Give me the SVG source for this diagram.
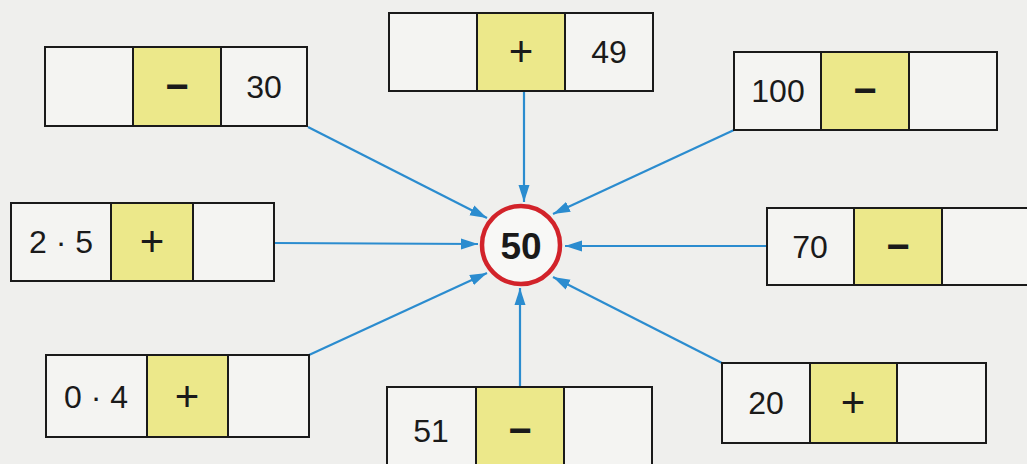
<svg xmlns="http://www.w3.org/2000/svg" width="1027" height="464" viewBox="0 0 1027 464">
<style>
.cell{fill:#f4f4f2;stroke:#1a1a1a;stroke-width:2}
.op{fill:#ece88a;stroke:#1a1a1a;stroke-width:2}
.t{font-family:"Liberation Sans",Arial,sans-serif;font-size:32px;fill:#1a1a1a;text-anchor:middle}
.p{font-size:42px}
.m{font-weight:bold;font-size:40px}
.conn line{stroke:#2b8ccf;stroke-width:2.2;fill:none}
</style>
<defs>
<marker id="ah" markerUnits="userSpaceOnUse" markerWidth="18" markerHeight="12" refX="17" refY="6" orient="auto">
<path d="M0,0.5 L17,6 L0,11.5 z" fill="#2b8ccf"/>
</marker>
</defs>
<rect width="1027" height="464" fill="#efefed"/>
<g class="conn">
<line x1="308" y1="127" x2="487" y2="218" marker-end="url(#ah)"/>
<line x1="524" y1="91" x2="524" y2="202" marker-end="url(#ah)"/>
<line x1="734" y1="130" x2="553" y2="214" marker-end="url(#ah)"/>
<line x1="274" y1="243" x2="478" y2="244" marker-end="url(#ah)"/>
<line x1="767" y1="246" x2="565" y2="246" marker-end="url(#ah)"/>
<line x1="309" y1="355" x2="487" y2="273" marker-end="url(#ah)"/>
<line x1="520" y1="387" x2="520" y2="288" marker-end="url(#ah)"/>
<line x1="722" y1="363" x2="553" y2="277" marker-end="url(#ah)"/>
</g>
<g id="center">
<circle cx="521" cy="245" r="39" fill="#f8f8f6" stroke="#d2232a" stroke-width="4.5"/>
<text x="521" y="259" class="t" style="font-weight:bold;font-size:37px">50</text>
</g>
<g id="n1">
<rect class="cell" x="45" y="47" width="88" height="79"/>
<rect class="op" x="133" y="47" width="88" height="79"/>
<rect class="cell" x="221" y="47" width="86" height="79"/>
<text class="t m" x="177" y="100">−</text>
<text class="t" x="264" y="98">30</text>
</g>
<g id="n2">
<rect class="cell" x="389" y="13" width="88" height="78"/>
<rect class="op" x="477" y="13" width="88" height="78"/>
<rect class="cell" x="565" y="13" width="88" height="78"/>
<text class="t p" x="521" y="66">+</text>
<text class="t" x="609" y="63">49</text>
</g>
<g id="n3">
<rect class="cell" x="734" y="52" width="87" height="78"/>
<rect class="op" x="821" y="52" width="88" height="78"/>
<rect class="cell" x="909" y="52" width="88" height="78"/>
<text class="t" x="778" y="102">100</text>
<text class="t m" x="865" y="104">−</text>
</g>
<g id="n4">
<rect class="cell" x="11" y="203" width="100" height="78"/>
<rect class="op" x="111" y="203" width="82" height="78"/>
<rect class="cell" x="193" y="203" width="81" height="78"/>
<text class="t" x="61" y="253">2 · 5</text>
<text class="t p" x="152" y="256">+</text>
</g>
<g id="n5">
<rect class="cell" x="767" y="208" width="87" height="77"/>
<rect class="op" x="854" y="208" width="88" height="77"/>
<rect class="cell" x="942" y="208" width="90" height="77"/>
<text class="t" x="810" y="258">70</text>
<text class="t m" x="898" y="260">−</text>
</g>
<g id="n6">
<rect class="cell" x="46" y="355" width="101" height="82"/>
<rect class="op" x="147" y="355" width="81" height="82"/>
<rect class="cell" x="228" y="355" width="81" height="82"/>
<text class="t" x="96" y="408">0 · 4</text>
<text class="t p" x="187" y="411">+</text>
</g>
<g id="n7">
<rect class="cell" x="387" y="387" width="89" height="90"/>
<rect class="op" x="476" y="387" width="88" height="90"/>
<rect class="cell" x="564" y="387" width="88" height="90"/>
<text class="t" x="431" y="442">51</text>
<text class="t m" x="520" y="444">−</text>
</g>
<g id="n8">
<rect class="cell" x="722" y="363" width="88" height="80"/>
<rect class="op" x="810" y="363" width="87" height="80"/>
<rect class="cell" x="897" y="363" width="89" height="80"/>
<text class="t" x="766" y="414">20</text>
<text class="t p" x="853" y="417">+</text>
</g>
</svg>
